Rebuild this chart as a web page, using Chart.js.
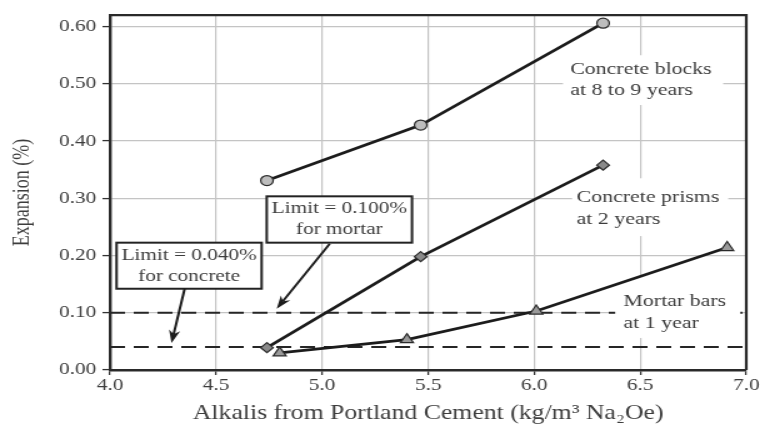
<!DOCTYPE html>
<html>
<head>
<meta charset="utf-8">
<script src="https://cdn.jsdelivr.net/npm/chart.js@4/dist/chart.umd.min.js"></script>
<style>
  html, body { margin: 0; padding: 0; background: #fff; overflow: hidden; }
</style>
</head>
<body>
<canvas id="c" width="608" height="431" style="display:block;width:760px;height:431px"></canvas>
<script>
// Expansion (%) against alkali content from Portland cement (kg/m3 Na2Oe)
const blocksX = [4.74, 5.465, 6.325];
const blocksY = [0.331, 0.428, 0.606];
const prismsX = [4.74, 5.465, 6.325];
const prismsY = [0.039, 0.198, 0.358];
const mortarX = [4.80, 5.40, 6.01, 6.91];
const mortarY = [0.030, 0.053, 0.103, 0.214];

const limitX = [4.0, 7.0];
const mortarLimit = 0.100;
const concreteLimit = 0.040;

const xTicks = [4.0, 4.5, 5.0, 5.5, 6.0, 6.5, 7.0];
const yTicks = [0.0, 0.1, 0.2, 0.3, 0.4, 0.5, 0.6];

const blocksLabel = ['Concrete blocks', 'at 8 to 9 years'];
const prismsLabel = ['Concrete prisms', 'at 2 years'];
const mortarLabel = ['Mortar bars', 'at 1 year'];
const mortarNote = ['Limit = 0.100%', 'for mortar'];
const concreteNote = ['Limit = 0.040%', 'for concrete'];

const xTitle = 'Alkalis from Portland Cement (kg/m\u00B3 Na\u2082Oe)';
const yTitle = 'Expansion (%)';

const SERIF = "'Liberation Serif', 'Times New Roman', 'DejaVu Serif', serif";
const INK = '#1c1c1c';
const TEXT = '#3d3d3d';
const GRID = '#c4c4c4';

const pts = (xs, ys) => xs.map((x, i) => ({ x, y: ys[i] }));
const flat = (xs, v) => xs.map(x => ({ x, y: v }));

// Placement of the text blocks, in axis units
const seriesLabels = [
  { lines: blocksLabel, x: 6.170, y: [0.526, 0.489], mask: [6.136, 0.550, 6.891, 0.463] },
  { lines: prismsLabel, x: 6.200, y: [0.302, 0.264], mask: [6.179, 0.335, 6.915, 0.234] },
  { lines: mortarLabel, x: 6.421, y: [0.119, 0.081], mask: [6.382, 0.163, 6.972, 0.056] }
];
const limitNotes = [
  { lines: mortarNote, box: [4.739, 0.3035, 5.424, 0.2225], arrow: [5.036, 0.2205, 4.786, 0.107] },
  { lines: concreteNote, box: [4.031, 0.2225, 4.715, 0.1420], arrow: [4.352, 0.1420, 4.290, 0.047] }
];

const vx = (c, v) => c.scales.x.getPixelForValue(v);
const vy = (c, v) => c.scales.y.getPixelForValue(v);

const frame = {
  id: 'frame',
  beforeDatasetsDraw(chart) {
    const { ctx, chartArea: a } = chart;
    ctx.save();
    ctx.strokeStyle = '#2a2a2a';
    ctx.lineWidth = 2.2;
    ctx.beginPath();
    ctx.moveTo(a.left, a.top);
    ctx.lineTo(a.right, a.top);
    ctx.lineTo(a.right, a.bottom);
    ctx.stroke();
    ctx.restore();
  }
};

// White panels and text for the series captions, drawn over the limit lines
const captions = {
  id: 'captions',
  afterDatasetDraw(chart, args) {
    if (args.index !== 3) return;
    const ctx = chart.ctx;
    ctx.save();
    seriesLabels.forEach(s => {
      const [x0, y0, x1, y1] = s.mask;
      ctx.fillStyle = '#fff';
      ctx.fillRect(vx(chart, x0), vy(chart, y0), vx(chart, x1) - vx(chart, x0), vy(chart, y1) - vy(chart, y0));
      ctx.fillStyle = TEXT;
      ctx.font = '17.5px ' + SERIF;
      ctx.textAlign = 'left';
      ctx.textBaseline = 'middle';
      s.lines.forEach((t, i) => ctx.fillText(t, vx(chart, s.x), vy(chart, s.y[i])));
    });
    ctx.restore();
  }
};

const notes = {
  id: 'notes',
  afterDatasetsDraw(chart) {
    const ctx = chart.ctx;
    ctx.save();
    limitNotes.forEach(n => {
      const [x0, y0, x1, y1] = n.box;
      const l = vx(chart, x0), t = vy(chart, y0), r = vx(chart, x1), b = vy(chart, y1);
      ctx.fillStyle = '#fff';
      ctx.fillRect(l, t, r - l, b - t);
      ctx.strokeStyle = '#222';
      ctx.lineWidth = 2;
      ctx.strokeRect(l, t, r - l, b - t);
      ctx.fillStyle = TEXT;
      ctx.font = '17px ' + SERIF;
      ctx.textAlign = 'center';
      ctx.textBaseline = 'middle';
      const cx = (l + r) / 2, cy = (t + b) / 2;
      ctx.fillText(n.lines[0], cx, cy - 10.5);
      ctx.fillText(n.lines[1], cx, cy + 10.5);

      const [ax0, ay0, ax1, ay1] = n.arrow;
      const sx = vx(chart, ax0), sy = vy(chart, ay0), ex = vx(chart, ax1), ey = vy(chart, ay1);
      const ang = Math.atan2(ey - sy, ex - sx);
      const len = 13, half = 4.5;
      const bx = ex - Math.cos(ang) * len, by = ey - Math.sin(ang) * len;
      ctx.strokeStyle = INK;
      ctx.lineWidth = 2;
      ctx.beginPath();
      ctx.moveTo(sx, sy);
      ctx.lineTo(bx + Math.cos(ang) * 4, by + Math.sin(ang) * 4);
      ctx.stroke();
      ctx.fillStyle = INK;
      ctx.beginPath();
      ctx.moveTo(ex, ey);
      ctx.lineTo(bx + Math.sin(ang) * half, by - Math.cos(ang) * half);
      ctx.lineTo(bx + Math.cos(ang) * 4, by + Math.sin(ang) * 4);
      ctx.lineTo(bx - Math.sin(ang) * half, by + Math.cos(ang) * half);
      ctx.closePath();
      ctx.fill();
    });
    ctx.restore();
  }
};

const seriesStyle = {
  showLine: true,
  borderColor: INK,
  borderWidth: 2.7,
  pointBorderColor: '#2a2a2a',
  pointBorderWidth: 1.2,
  pointHoverRadius: 0,
  tension: 0,
  fill: false
};
const limitStyle = {
  showLine: true,
  borderColor: '#262626',
  borderWidth: 2,
  borderDash: [12, 7],
  pointRadius: 0,
  pointHoverRadius: 0,
  fill: false
};

new Chart(document.getElementById('c'), {
  type: 'scatter',
  data: {
    datasets: [
      { label: 'Concrete blocks at 8 to 9 years', data: pts(blocksX, blocksY), ...seriesStyle,
        pointStyle: 'circle', pointRadius: 5, pointBackgroundColor: '#bdbdbd' },
      { label: 'Concrete prisms at 2 years', data: pts(prismsX, prismsY), ...seriesStyle,
        pointStyle: 'rectRot', pointRadius: 5, pointBackgroundColor: '#8a8a8a' },
      { label: 'Mortar bars at 1 year', data: pts(mortarX, mortarY), ...seriesStyle,
        pointStyle: 'triangle', pointRadius: 6, pointBackgroundColor: '#9a9a9a' },
      { label: 'Limit for mortar', data: flat(limitX, mortarLimit), ...limitStyle },
      { label: 'Limit for concrete', data: flat(limitX, concreteLimit), ...limitStyle }
    ]
  },
  options: {
    responsive: false,
    animation: false,
    devicePixelRatio: 1,
    layout: { padding: { left: 0, right: 11, top: 13, bottom: 0 } },
    plugins: { legend: { display: false }, tooltip: { enabled: false } },
    scales: {
      x: {
        type: 'linear',
        min: 4.0,
        max: 7.0,
        afterBuildTicks: s => { s.ticks = xTicks.map(v => ({ value: v })); },
        afterFit: s => { s.height = 61; },
        ticks: {
          callback: v => Number(v).toFixed(1),
          font: { family: SERIF, size: 17 },
          color: TEXT,
          padding: 0,
          maxRotation: 0,
          autoSkip: false
        },
        grid: { color: GRID, lineWidth: 1.2, tickColor: '#333', tickLength: 5, tickWidth: 1.3 },
        border: { color: '#2a2a2a', width: 2.4 },
        title: {
          display: true,
          text: xTitle,
          font: { family: SERIF, size: 20.6 },
          color: TEXT,
          padding: { top: 0, bottom: 5 }
        }
      },
      y: {
        type: 'linear',
        min: 0,
        max: 0.62,
        afterBuildTicks: s => { s.ticks = yTicks.map(v => ({ value: v })); },
        afterFit: s => { s.width = 88; },
        ticks: {
          callback: v => Number(v).toFixed(2),
          font: { family: SERIF, size: 17 },
          color: TEXT,
          padding: 5,
          autoSkip: false
        },
        grid: { color: GRID, lineWidth: 1.2, tickColor: '#333', tickLength: 6, tickWidth: 1.3 },
        border: { color: '#2a2a2a', width: 2.4 },
        title: {
          display: true,
          text: yTitle,
          font: { family: SERIF, size: 18 },
          color: TEXT,
          padding: { top: 7, bottom: 0 }
        }
      }
    }
  },
  plugins: [frame, captions, notes]
});
</script>
</body>
</html>
